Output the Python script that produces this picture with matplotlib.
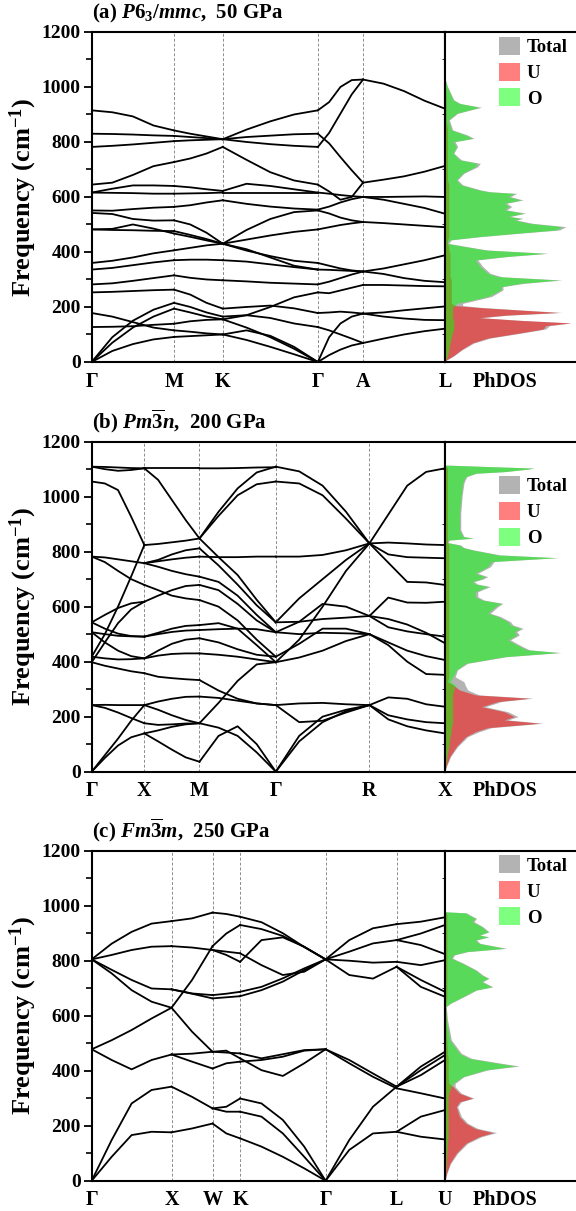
import numpy as np
import matplotlib
matplotlib.use("Agg")
import matplotlib.pyplot as plt

plt.rcParams['font.family'] = ['Liberation Serif', 'DejaVu Serif']
plt.rcParams['font.weight'] = 'bold'
plt.rcParams['mathtext.fontset'] = 'custom'
plt.rcParams['mathtext.rm'] = 'Liberation Serif:bold'
plt.rcParams['mathtext.it'] = 'Liberation Serif:italic:bold'
plt.rcParams['mathtext.bf'] = 'Liberation Serif:bold'

# ---------------- panel (a) P6_3/mmc, 50 GPa ----------------
kpath_a = [0, 0.233, 0.371, 0.640, 0.768, 1.0]
klabels_a = ['Γ', 'M', 'K', 'Γ', 'A', 'L']

# each row = frequencies (cm-1) sampled evenly along one path segment
a_GM = [[915, 908, 893, 860, 842], [830, 829, 827, 824, 822], [782, 786, 791, 797, 803],
        [645, 652, 680, 712, 727], [616, 630, 642, 642, 640], [616, 615, 614, 612, 612],
        [551, 550, 556, 561, 564], [542, 538, 520, 514, 515], [482, 484, 500, 485, 467],
        [482, 480, 479, 477, 476], [360, 368, 380, 395, 406], [336, 342, 352, 362, 370],
        [282, 286, 295, 305, 315], [253, 255, 258, 261, 263], [178, 165, 145, 125, 115],
        [127, 128, 130, 135, 139], [0, 90, 150, 190, 215], [0, 70, 125, 165, 194],
        [0, 40, 65, 82, 91]]
a_MK = [[842, 830, 820, 810], [822, 818, 814, 810], [803, 806, 808, 810],
        [727, 740, 758, 782], [640, 635, 628, 622], [612, 613, 614, 616],
        [564, 570, 580, 588], [515, 500, 470, 430], [467, 455, 442, 430],
        [476, 462, 447, 430], [406, 415, 424, 430], [370, 372, 372, 370],
        [315, 306, 300, 297], [263, 245, 215, 194], [215, 200, 180, 165],
        [194, 180, 165, 155], [139, 148, 153, 155], [115, 110, 104, 100],
        [91, 94, 97, 100]]
a_KG = [[810, 845, 875, 900, 915], [810, 818, 823, 828, 830], [810, 800, 792, 786, 782],
        [782, 735, 690, 660, 645], [622, 648, 640, 628, 616], [616, 616, 616, 616, 616],
        [588, 575, 565, 558, 554], [430, 480, 520, 545, 551], [430, 445, 460, 473, 482],
        [430, 405, 385, 368, 360], [430, 410, 380, 350, 336], [370, 365, 355, 345, 336],
        [297, 293, 288, 285, 282], [194, 200, 205, 195, 178], [165, 170, 160, 140, 127],
        [155, 170, 200, 235, 253], [155, 125, 90, 48, 0], [100, 115, 95, 55, 0],
        [100, 80, 55, 28, 0]]
a_GA = [[915, 945, 1000, 1025, 1027], [830, 795, 745, 697, 652], [782, 833, 903, 973, 1027],
        [645, 620, 590, 600, 652], [616, 612, 607, 603, 600], [554, 565, 580, 592, 600],
        [551, 540, 525, 515, 509], [482, 490, 498, 504, 509], [360, 350, 340, 333, 329],
        [336, 335, 333, 331, 329], [282, 292, 305, 318, 329], [253, 250, 260, 270, 280],
        [178, 180, 183, 180, 176], [127, 115, 100, 85, 69], [0, 90, 140, 165, 176],
        [0, 25, 45, 60, 69]]
a_AL = [[1027, 1012, 985, 950, 921], [652, 663, 675, 692, 713], [600, 600, 601, 602, 600],
        [600, 590, 575, 560, 539], [509, 505, 500, 495, 490], [329, 340, 355, 370, 388],
        [329, 320, 305, 295, 290], [280, 280, 278, 276, 275], [176, 180, 188, 195, 202],
        [176, 165, 158, 153, 152], [69, 85, 100, 112, 121]]

dos_a_freq = [0, 7, 22, 44, 69, 87, 106, 120, 132, 142,
              151, 161, 170, 180, 190, 198, 205, 213, 225, 238,
              262, 274, 286, 298, 310, 322, 347, 371, 383, 395,
              407, 419, 431, 444, 456, 468, 480, 492, 504, 516,
              522, 529, 541, 553, 565, 577, 589, 601, 613, 619,
              625, 644, 662, 686, 710, 722, 735, 759, 783, 801,
              813, 825, 844, 880, 904, 916, 926, 940, 953, 1001,
              1031]
dos_a_total = [0, 1.2, 7, 13.5, 23, 36, 62, 80, 83, 100,
               62, 29, 50, 93, 57, 30, 14, 14, 25, 37,
               46, 46, 63, 93, 45, 36, 30, 26, 49, 82,
               34, 18, 3, 5, 29, 59, 91, 96, 70, 57,
               62, 52, 64, 49, 53, 49, 62, 52, 57, 36,
               29, 14, 10, 15, 26, 28, 13, 7, 10, 8,
               23, 18, 6, 3.5, 10, 20, 29, 12, 7, 2,
               0]
dos_a_U = [0, 1, 6.4, 12.7, 21.6, 34, 60, 78, 80, 100,
           60, 27, 47, 90, 55, 27, 8, 5, 5, 5,
           5, 5, 5, 5, 4, 4, 4, 4, 4, 4,
           3, 3, 2, 2, 3, 3, 3, 3, 3, 3,
           3, 3, 3, 3, 3, 3, 3, 3, 3, 3,
           3, 3, 2, 2, 2, 2, 2, 2, 2, 2,
           2, 2, 2, 1, 1, 1, 1, 1, 1, 0.5,
           0]
dos_a_O = [0, 0.5, 2, 3, 4, 5, 6, 7, 7, 7,
           7, 6, 6, 6, 6, 6, 8, 9, 21.6, 34,
           44.5, 44.5, 60, 90, 42, 34, 28, 24, 47, 80,
           32, 16.5, 1.3, 3.8, 27, 57, 88, 93, 67, 55,
           60, 50, 62, 47, 51, 47, 60, 50, 55, 34,
           27, 12.7, 9, 14, 24, 25.4, 11.5, 6.4, 9, 6.4,
           21.6, 16.5, 5, 2.5, 9, 19, 27, 11.5, 6.4, 1.8,
           0]

# ---------------- panel (b) Pm-3n, 200 GPa ----------------
kpath_b = [0, 0.149, 0.305, 0.521, 0.786, 1.0]
klabels_b = ['Γ', 'X', 'M', 'Γ', 'R', 'X']

b_GX = [[1109, 1100, 1094, 1097, 1103], [1109, 1108, 1106, 1104, 1103], [1055, 1048, 1024, 927, 824],
        [782, 779, 772, 765, 758], [782, 762, 730, 700, 679], [418, 500, 600, 710, 824],
        [398, 470, 540, 590, 618], [543, 570, 595, 612, 618], [543, 520, 502, 493, 491],
        [507, 500, 494, 492, 491], [507, 470, 440, 420, 412], [418, 412, 408, 409, 412],
        [398, 385, 375, 365, 358], [242, 232, 215, 195, 176], [242, 243, 242, 242, 242],
        [0, 60, 120, 185, 242], [0, 50, 95, 125, 139]]
b_XM = [[1103, 1103, 1103, 1103, 1103], [1103, 1061, 988, 915, 848], [824, 828, 834, 840, 848],
        [758, 770, 790, 805, 812], [758, 745, 730, 718, 709], [758, 765, 772, 778, 782],
        [618, 640, 660, 675, 679], [679, 660, 640, 630, 624], [491, 505, 520, 530, 533],
        [491, 500, 508, 513, 515], [412, 440, 465, 480, 485], [412, 422, 428, 430, 430],
        [358, 345, 340, 336, 333], [242, 255, 265, 272, 273], [242, 225, 205, 188, 176],
        [176, 170, 172, 175, 176], [139, 150, 163, 172, 176], [139, 110, 80, 52, 36]]
b_MG = [[1103, 1103, 1104, 1106, 1107], [848, 945, 1030, 1088, 1109], [848, 930, 1005, 1045, 1055],
        [848, 780, 715, 625, 543], [812, 750, 680, 605, 543], [782, 780, 780, 782, 782],
        [709, 690, 640, 570, 507], [679, 660, 610, 550, 507], [624, 600, 550, 480, 418],
        [533, 540, 520, 460, 398], [515, 518, 520, 518, 507], [485, 470, 445, 425, 418],
        [430, 425, 418, 408, 398], [333, 295, 265, 248, 242], [273, 268, 258, 248, 242],
        [176, 250, 330, 390, 398], [176, 160, 130, 70, 0], [36, 130, 165, 100, 0]]
b_GR = [[1109, 1092, 1040, 945, 830], [1055, 1048, 1005, 920, 830], [782, 782, 788, 805, 830],
        [543, 630, 700, 770, 830], [398, 480, 600, 730, 830], [543, 545, 555, 560, 566],
        [507, 545, 610, 600, 566], [507, 500, 505, 503, 500], [418, 465, 520, 520, 500],
        [398, 415, 440, 475, 500], [242, 248, 250, 245, 242], [242, 180, 185, 215, 242],
        [0, 130, 200, 225, 242], [0, 110, 180, 220, 242]]
b_RX = [[830, 935, 1040, 1090, 1103], [830, 833, 830, 826, 824], [830, 790, 780, 778, 776],
        [830, 760, 690, 688, 679], [566, 633, 615, 614, 618], [566, 525, 510, 500, 491],
        [566, 555, 535, 505, 467], [500, 470, 440, 420, 406], [500, 460, 400, 355, 352],
        [242, 270, 265, 245, 236], [242, 205, 190, 180, 176], [242, 190, 165, 150, 139]]

dos_b_freq = [0, 18, 55, 91, 127, 145, 160, 176, 188, 200,
              218, 236, 255, 267, 279, 297, 315, 327, 345, 370,
              394, 418, 433, 443, 454, 466, 479, 497, 509, 521,
              533, 545, 564, 576, 588, 600, 612, 624, 636, 654,
              664, 673, 682, 691, 700, 709, 721, 733, 745, 764,
              778, 788, 806, 815, 824, 833, 842, 849, 855, 879,
              940, 1000, 1049, 1061, 1073, 1085, 1091, 1100, 1104, 1110,
              1115]
dos_b_total = [0, 1, 4.5, 10, 18, 27, 37, 78, 50, 58,
               50, 32, 45, 70, 27, 18, 16, 15, 8, 10,
               18, 49, 92, 67, 62, 57, 52, 59, 57, 62,
               54, 52, 44, 36, 39, 42, 46, 31, 26, 26,
               31, 36, 26, 23, 30, 34, 26, 31, 36, 39,
               90, 44, 23, 15, 12.5, 2.5, 3.5, 23, 15, 12.5,
               12.5, 13.5, 15, 16, 17.5, 25, 48, 66, 71, 31,
               0]
dos_b_U = [0, 0.8, 3.8, 9, 16.5, 24, 34, 75, 47, 55,
           47, 29, 42, 67, 24, 11.5, 6.4, 2, 3, 3,
           3, 3, 3, 3, 3, 3, 3, 3, 3, 3,
           3, 3, 3, 3, 3, 3, 3, 3, 3, 3,
           3, 3, 3, 3, 3, 3, 3, 3, 3, 3,
           3, 3, 3, 3, 3, 2, 2, 2, 2, 2,
           2, 2, 2, 2, 2, 2, 2, 2, 2, 1,
           0]
dos_b_O = [0, 0.5, 1.5, 3, 4, 5, 5, 6, 6, 6,
           6, 6, 6, 6, 6, 7, 8, 4, 6.4, 9,
           16.5, 47, 90, 65, 60, 55, 50, 57, 55, 60,
           52, 50, 42, 34, 37, 40, 44.5, 29, 24, 24,
           29, 34, 24, 21.6, 28, 32, 24, 29, 34, 37,
           88, 42, 21.6, 14, 11.5, 1.3, 2.5, 21.6, 14, 11.5,
           11.5, 12.7, 14, 15, 16.5, 24, 47, 65, 70, 30,
           0]

# ---------------- panel (c) Fm-3m, 250 GPa ----------------
kpath_c = [0, 0.226, 0.342, 0.420, 0.662, 0.863, 1.0]
klabels_c = ['Γ', 'X', 'W', 'K', 'Γ', 'L', 'U']

c_GX = [[805, 862, 905, 935, 944], [805, 821, 839, 851, 853], [805, 767, 730, 699, 696],
        [805, 754, 693, 651, 629], [478, 511, 548, 590, 629], [478, 439, 405, 439, 459],
        [0, 148, 281, 330, 342], [0, 87, 166, 178, 176]]
c_XW = [[944, 954, 975], [853, 848, 839], [696, 681, 675], [696, 680, 663], [629, 730, 853],
        [629, 542, 469], [459, 462, 469], [459, 433, 408], [342, 305, 263], [176, 190, 208]]
c_WK = [[975, 970, 960], [839, 821, 796], [839, 833, 827], [853, 899, 930], [675, 680, 687],
        [663, 667, 671], [469, 473, 445], [469, 466, 463], [408, 427, 433], [263, 269, 299],
        [263, 251, 251], [208, 172, 154]]
c_KG = [[960, 940, 900, 850, 805], [930, 915, 890, 850, 805], [796, 875, 885, 851, 805],
        [827, 784, 748, 760, 805], [687, 705, 736, 772, 805], [671, 693, 724, 766, 805],
        [445, 402, 381, 427, 478], [463, 445, 460, 475, 478], [433, 439, 451, 473, 478],
        [299, 281, 221, 124, 0], [251, 233, 172, 87, 0], [154, 124, 87, 45, 0]]
c_GL = [[805, 875, 918, 933], [805, 833, 863, 875], [805, 800, 793, 796], [805, 748, 735, 778],
        [478, 439, 390, 342], [478, 427, 378, 336], [0, 148, 269, 342], [0, 112, 172, 178]]
c_LU = [[933, 942, 958], [875, 899, 930], [875, 857, 824], [796, 784, 802], [778, 730, 687],
        [778, 705, 669], [342, 415, 469], [342, 402, 457], [342, 384, 439], [336, 318, 299],
        [178, 233, 257], [178, 160, 150]]

dos_c_freq = [0, 27, 63, 100, 136, 160, 175, 190, 209, 233,
              269, 287, 300, 318, 342, 354, 378, 403, 417, 427,
              445, 463, 512, 584, 633, 645, 669, 693, 705, 724,
              736, 748, 766, 790, 809, 821, 833, 845, 863, 875,
              887, 893, 905, 924, 942, 954, 966, 974, 978]
dos_c_total = [0, 1.5, 4.5, 10, 18, 29, 41, 26, 18, 13,
               10, 13, 23, 13, 8, 8, 15, 34, 59, 45,
               21, 13, 5, 2, 1, 4.5, 15, 25, 38, 30,
               35, 30, 25, 15, 6, 7.5, 18, 49, 28, 25,
               35, 28, 35, 30, 23, 25, 20, 17, 0]
dos_c_U = [0, 1.3, 3.8, 9, 16.5, 27, 38, 24, 16.5, 11.5,
           9, 11.5, 21.6, 11.5, 6.4, 3, 2.5, 2.5, 2.5, 2.5,
           2.5, 2, 1.5, 1, 0.5, 1, 1.5, 1.5, 1.5, 1.5,
           1.5, 1.5, 1.5, 1.5, 1.5, 1.5, 1.5, 1.5, 1.5, 1.5,
           1.5, 1.5, 1.5, 1.5, 1.5, 1.5, 1.5, 1, 0]
dos_c_O = [0, 0.5, 1, 1.5, 2, 2.5, 2.5, 2.5, 2.5, 2.5,
           2.5, 2.5, 2.5, 3, 5, 6.4, 14, 32, 56, 42,
           19, 11.5, 3.8, 1.3, 0.5, 3.8, 14, 24, 37, 29,
           34, 29, 24, 14, 5, 6.4, 16.5, 47, 27, 24,
           34, 27, 34, 29, 21.6, 24, 19, 16.5, 0]

panels = [
    ('(a) $P6_3/mmc$,  50 GPa', kpath_a, klabels_a, [a_GM, a_MK, a_KG, a_GA, a_AL],
     dos_a_freq, dos_a_total, dos_a_U, dos_a_O, 1.02),
    ('(b) $Pm\\overline{3}n$,  200 GPa', kpath_b, klabels_b, [b_GX, b_XM, b_MG, b_GR, b_RX],
     dos_b_freq, dos_b_total, dos_b_U, dos_b_O, 0.93),
    ('(c) $Fm\\overline{3}m$,  250 GPa', kpath_c, klabels_c, [c_GX, c_XW, c_WK, c_KG, c_GL, c_LU],
     dos_c_freq, dos_c_total, dos_c_U, dos_c_O, 1.02),
]

fig = plt.figure(figsize=(5.76, 12.11), dpi=100)
bottoms = [0.7011, 0.3628, 0.0250]
h = 0.2725
left, wband, wdos = 0.1592, 0.6134, 0.2274

for (title, kpath, klabels, segments, dfreq, dtot, dU, dO, leg_y), b in zip(panels, bottoms):
    ax = fig.add_axes([left, b, wband, h])
    axd = fig.add_axes([left + wband, b, wdos, h], sharey=ax)

    # vertical dashed lines at inner high-symmetry points
    for k in kpath[1:-1]:
        ax.axvline(k, color='#8c8c8c', ls=(0, (3, 2)), lw=0.7, zorder=1)

    # phonon branches, segment by segment
    for i, seg in enumerate(segments):
        for band in seg:
            x = np.linspace(kpath[i], kpath[i + 1], len(band))
            ax.plot(x, band, color='black', lw=1.3, zorder=3)

    ax.set_xlim(0, 1)
    ax.set_ylim(0, 1200)
    ax.set_xticks(kpath)
    ax.set_xticklabels(klabels, fontsize=14.5, fontweight='bold')
    ax.set_yticks(range(0, 1201, 200))
    ax.set_yticks(range(100, 1200, 200), minor=True)
    ax.tick_params(axis='y', which='major', direction='out', length=6, width=1.3,
                   labelsize=14, pad=2)
    ax.tick_params(axis='y', which='minor', direction='out', length=4, width=1.2)
    ax.tick_params(axis='x', length=0, pad=7)
    ax.set_ylabel('Frequency (cm$^{-1}$)', fontsize=19, fontweight='bold')
    ax.yaxis.set_label_coords(-0.15, 0.5)
    for s in ax.spines.values():
        s.set_linewidth(1.5)
    ax.text(0.0, 1.02, title, transform=ax.transAxes, ha='left', va='bottom',
            fontsize=15, fontweight='bold')

    # projected phonon DOS
    ft = axd.fill_betweenx(dfreq, 0, dtot, color='#b3b3b3', lw=0, label='Total')
    fu = axd.fill_betweenx(dfreq, 0, dU, color='red', alpha=0.5, lw=0, label='U')
    fo = axd.fill_betweenx(dfreq, 0, dO, color='lime', alpha=0.5, lw=0, label='O')
    axd.set_xlim(0, 104)
    axd.set_xticks([48])
    axd.set_xticklabels(['PhDOS'], fontsize=14.5, fontweight='bold')
    axd.tick_params(axis='x', length=0, pad=7)
    axd.tick_params(axis='y', left=False, labelleft=False)
    axd.spines['right'].set_visible(False)
    for s in ['top', 'bottom', 'left']:
        axd.spines[s].set_linewidth(1.5)
    axd.legend(handles=[ft, fu, fo], loc='upper left', bbox_to_anchor=(0.33, leg_y),
               frameon=False, handlelength=1.1, handleheight=1.1,
               labelspacing=0.35, handletextpad=0.35, borderaxespad=0.2,
               prop={'weight': 'bold', 'size': 13.5})

fig.savefig('out.png', dpi=100)
